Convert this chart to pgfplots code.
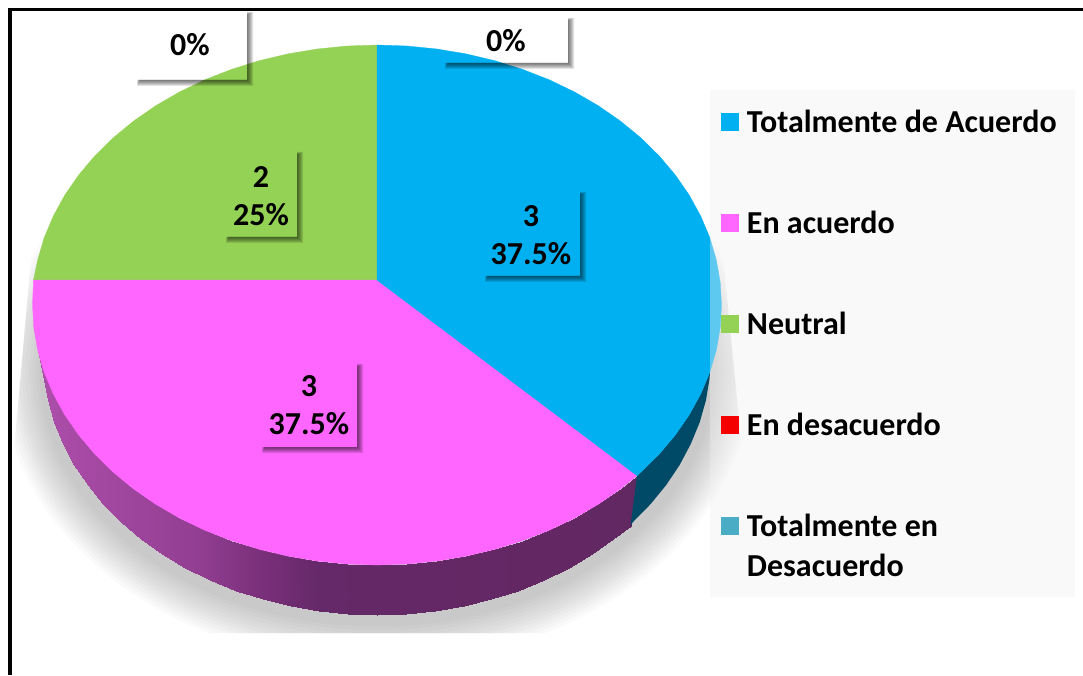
\documentclass[border=0pt]{standalone}
\usepackage{pgfplots}
\pgfplotsset{compat=1.18}
\usepackage{fontspec}
\setmainfont{Carlito}
\definecolor{cblue}{HTML}{00B0F0}
\definecolor{cmag}{HTML}{FF66FF}
\definecolor{cgreen}{HTML}{94D255}
\definecolor{cred}{HTML}{F50000}
\definecolor{cteal}{HTML}{4BACC6}
\definecolor{cwall}{HTML}{004A68}
\newcommand\shad[4]{\foreach \g in {-1,0,1,2,3,4}{\fill[black,opacity=.11] (#3,#2+4-\g/2) -- (#3+2+\g,#2+4-\g/2) -- (#3+2+\g,#4+2+\g) -- (#1+4-\g/2,#4+2+\g) -- (#1+4-\g/2,#4) -- (#3,#4) -- cycle;}}
\begin{document}
\begin{tikzpicture}
\useasboundingbox (0pt,0pt) rectangle (1083pt,675pt);
\begin{scope}[shift={(0pt,675pt)},x=1pt,y=-1pt]
  \begin{scope}
    \clip (34,225) -- (720,225) -- (744,470) -- (744,633) -- (14,633) -- (14,450) -- cycle;
    \foreach \i in {0,...,11}{
      \fill[black,opacity=.021] (377,372) ellipse [x radius={375-3.4*\i}, y radius={292-3.4*\i}];
    }
  \end{scope}
\end{scope}
\begin{axis}[
  at={(0pt,0pt)},anchor=south west,
  scale only axis,width=1083pt,height=675pt,
  xmin=0,xmax=1083,ymin=0,ymax=675,y dir=reverse,
  axis lines=none,clip=false,
  colormap={wall}{rgb255(0cm)=(172,78,170); rgb255(1.57cm)=(146,62,146); rgb255(2.17cm)=(122,48,122); rgb255(2.77cm)=(101,40,104); rgb255(5.97cm)=(98,40,98)},
  point meta min=43,point meta max=640,
  legend image code/.code={\fill[draw=none,#1] (0pt,-6pt) rectangle (18pt,12pt);},
  legend cell align=left,
  legend style={at={(0.6657,0.834)},anchor=north west,draw=none,fill=none,inner sep=0pt,outer sep=0pt,
    row sep=75pt,column sep=8pt,
    font=\fontsize{32}{40}\selectfont\bfseries,
    nodes={inner sep=0pt,outer sep=0pt,text height=20pt,text depth=6pt}},
]
% side wall, magenta slice
\addplot[surf,shader=interp,forget plot,mesh/rows=29,mesh/cols=2,point meta=x] table {
x y
32.5 305
43 355
33.8 327.7
44.3 377.7
37.7 350.1
48 400.1
44.2 372.3
54.3 422.3
53.3 393.9
63.2 443.9
64.8 414.9
74.3 464.9
78.7 435
87.8 485
94.8 454.1
103.4 504.1
113.1 472.1
121.1 522.1
133.4 488.8
140.8 538.8
155.6 504.2
162.4 554.2
179.4 518
185.4 568
204.7 530.2
210 580.2
231.4 540.6
235.8 590.6
259.2 549.3
262.8 599.3
287.8 556.1
290.5 606.1
317.2 561
319 611
347 564
347.9 614
377 565
377 615
407 564
406.1 614
436.8 561
435 611
466.2 556.1
463.5 606.1
494.8 549.3
491.2 599.3
522.6 540.6
518.2 590.6
549.3 530.2
544 580.2
574.6 518
568.6 568
598.4 504.2
591.6 554.2
620.6 488.8
613.2 538.8
637 475.6
630.5 525.6
};
% side wall, blue slice
\addplot[fill=cwall,draw=none,forget plot] coordinates {
(637,475.6)(640.9,472.1)(659.2,454.1)(675.3,435)(689.2,414.9)(700.7,393.9)(709.8,372.3)
(709.7,377.7)(706,400.1)(699.7,422.3)(690.8,443.9)(679.7,464.9)(666.2,485)(650.6,504.1)(632.9,522.1)(630.5,525.6)
} --cycle;
% Neutral: 2, 25%
\addplot[fill=cgreen,draw=cgreen,line width=.3pt,forget plot] coordinates {
(377,280)(33.5,280)(37.7,259.9)(44.2,237.7)(53.3,216.1)(64.8,195.1)(78.7,175)(94.8,155.9)(113.1,137.9)(133.4,121.2)(155.6,105.8)(179.4,92)(204.7,79.8)(231.4,69.4)(259.2,60.7)(287.8,53.9)(317.2,49)(347,46)(377,45)
} --cycle;
% En acuerdo: 3, 37.5%
\addplot[fill=cmag,draw=cmag,line width=.3pt,forget plot] coordinates {
(377,280)(637,475.6)(620.6,488.8)(598.4,504.2)(574.6,518)(549.3,530.2)(522.6,540.6)(494.8,549.3)(466.2,556.1)(436.8,561)(407,564)(377,565)(347,564)(317.2,561)(287.8,556.1)(259.2,549.3)(231.4,540.6)(204.7,530.2)(179.4,518)(155.6,504.2)(133.4,488.8)(113.1,472.1)(94.8,454.1)(78.7,435)(64.8,414.9)(53.3,393.9)(44.2,372.3)(37.7,350.1)(33.8,327.7)(32.5,305)(33.5,280)
} --cycle;
% Totalmente de Acuerdo: 3, 37.5%
\addplot[fill=cblue,draw=cblue,line width=.3pt,forget plot] coordinates {
(377,280)(377,45)(407,46)(436.8,49)(466.2,53.9)(494.8,60.7)(522.6,69.4)(549.3,79.8)(574.6,92)(598.4,105.8)(620.6,121.2)(640.9,137.9)(659.2,155.9)(675.3,175)(689.2,195.1)(700.7,216.1)(709.8,237.7)(716.3,259.9)(720.2,282.3)(721.5,305)(720.2,327.7)(716.3,350.1)(709.8,372.3)(700.7,393.9)(689.2,414.9)(675.3,435)(659.2,454.1)(640.9,472.1)(637,475.6)
} --cycle;
\addlegendimage{fill=cblue}
\addlegendentry{Totalmente de Acuerdo}
\addlegendimage{fill=cmag}
\addlegendentry{En acuerdo}
\addlegendimage{fill=cgreen}
\addlegendentry{Neutral}
\addlegendimage{fill=cred}
\addlegendentry{En desacuerdo}
\addlegendimage{fill=cteal}
\addlegendentry{\parbox[t]{300pt}{\baselineskip=40pt Totalmente en\\Desacuerdo}}
\fill[fill=black!6,fill opacity=.39] (axis cs:710,90) rectangle (axis cs:1075,597);
\tikzset{lab/.style={align=center,inner sep=0pt,font=\fontsize{32}{38}\selectfont\bfseries}}
\node[lab] at (axis cs:261,196) {2\\25\%};
\node[lab] at (axis cs:531,235) {3\\37.5\%};
\node[lab] at (axis cs:309,405) {3\\37.5\%};
\node[lab] at (axis cs:190,45) {0\%};
\node[lab] at (axis cs:506,41) {0\%};
\end{axis}
\begin{scope}[shift={(0pt,675pt)},x=1pt,y=-1pt]
  \shad{135}{10}{247}{80}
  \shad{443}{16}{568}{63}
  \shad{224}{150}{297}{237}
  \shad{483}{190}{580}{276}
  \shad{260}{362}{357}{447}
  \fill[black] (8,8) rectangle (12,675);
  \fill[black] (8,8) rectangle (1083,11);
\end{scope}
\end{tikzpicture}
\end{document}
